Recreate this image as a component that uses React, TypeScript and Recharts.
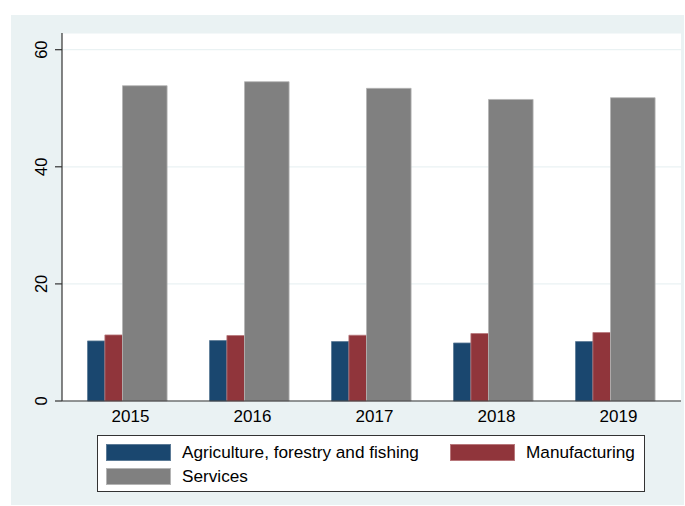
import { BarChart, Bar, XAxis, YAxis, CartesianGrid } from "recharts";

const years = ["2015", "2016", "2017", "2018", "2019"];
const agriculture = [10.26, 10.32, 10.15, 9.91, 10.15];
const manufacturing = [11.28, 11.18, 11.23, 11.52, 11.69];
const services = [53.85, 54.53, 53.4, 51.5, 51.8];
const yTicks = [0, 20, 40, 60];

const series = [
  { key: "agriculture", name: "Agriculture, forestry and fishing", color: "#1a476f", edge: "#5b7a96", size: 17.4 },
  { key: "manufacturing", name: "Manufacturing", color: "#90353b", edge: "#b8777b", size: 17.6 },
  { key: "services", name: "Services", color: "#808080", edge: "#b4b4b4", size: 44.6 },
];

const font = "'Liberation Sans', Arial, Helvetica, sans-serif";

function YTick(props: any) {
  const { x, y, payload } = props;
  return (
    <text x={x} y={y} transform={`rotate(-90, ${x}, ${y})`} textAnchor="middle" fontSize={16.5} fill="#000" fontFamily={font}>
      {payload.value}
    </text>
  );
}

function XTick(props: any) {
  const { x, y, payload } = props;
  return (
    <text x={x + 3} y={y + 19} textAnchor="middle" fontSize={17} fill="#000" fontFamily={font}>
      {payload.value}
    </text>
  );
}

export default function App() {
  const data = years.map((year, i) => ({
    year,
    agriculture: agriculture[i],
    manufacturing: manufacturing[i],
    services: services[i],
  }));

  return (
    <div style={{ position: "absolute", left: 0, top: 0, width: 685, height: 506, background: "#fff", fontFamily: font }}>
      <div style={{ position: "absolute", left: 11, top: 15, width: 673, height: 490, background: "#eaf2f3" }} />
      <div style={{ position: "absolute", left: 0, top: 0 }}>
        <BarChart
          width={685}
          height={506}
          data={data}
          margin={{ top: 33, right: 4, left: 12, bottom: 75 }}
          barGap={0}
          barCategoryGap={0}
        >
          <CartesianGrid vertical={false} stroke="#eaf2f3" fill="#ffffff" strokeWidth={1.2} />
          <XAxis
            dataKey="year"
            height={30}
            padding={{ left: 4.5, right: 4.5 }}
            axisLine={{ stroke: "#333", strokeWidth: 1.2 }}
            tickLine={false}
            tickSize={0}
            tick={<XTick />}
            interval={0}
          />
          <YAxis
            width={50}
            domain={[0, 62.85]}
            ticks={yTicks}
            axisLine={{ stroke: "#333", strokeWidth: 1.2 }}
            tickLine={{ stroke: "#333", strokeWidth: 1.2 }}
            tickSize={7}
            tickMargin={8}
            tick={<YTick />}
          />
          {series.map((s) => (
            <Bar
              key={s.key}
              dataKey={s.key}
              name={s.name}
              fill={s.color}
              stroke={s.edge}
              strokeWidth={0.8}
              barSize={s.size}
              isAnimationActive={false}
            />
          ))}
        </BarChart>
      </div>
      <div
        style={{
          position: "absolute",
          left: 97,
          top: 435,
          width: 546,
          height: 55,
          background: "#fff",
          border: "1px solid #333",
          fontSize: 17.2,
          color: "#000",
        }}
      >
        {series.map((s, i) => (
          <div
            key={s.key}
            style={{
              position: "absolute",
              left: i === 1 ? 352 : 8,
              top: i === 2 ? 30 : 6,
              display: "flex",
              alignItems: "center",
              whiteSpace: "nowrap",
            }}
          >
            <span
              style={{
                display: "inline-block",
                width: 65,
                height: 17,
                background: s.color,
                boxShadow: `inset 0 0 0 1px ${s.edge}`,
                marginRight: 11,
              }}
            />
            <span>{s.name}</span>
          </div>
        ))}
      </div>
    </div>
  );
}
